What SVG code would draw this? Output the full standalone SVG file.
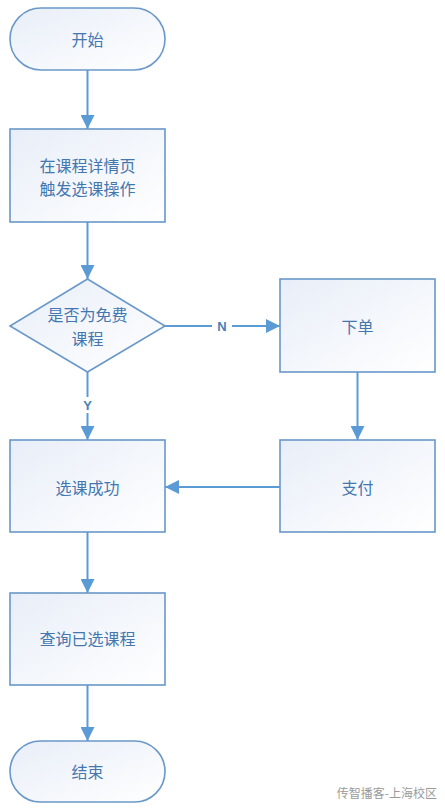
<svg xmlns="http://www.w3.org/2000/svg" width="445" height="809" viewBox="0 0 445 809">
<defs>
<linearGradient id="g" x1="0" y1="0" x2="1" y2="1">
<stop offset="0" stop-color="#e8eef8"/>
<stop offset="1" stop-color="#ffffff"/>
</linearGradient>
<marker id="ah" markerWidth="14" markerHeight="14" refX="14" refY="7" orient="auto" markerUnits="userSpaceOnUse">
<path d="M0,0 L14,7 L0,14 Z" fill="#5b9bd5"/>
</marker>
<style>
.n{fill:url(#g);stroke:#6a98c9;stroke-width:1.6}
.t{font-family:"Noto Sans CJK SC","Noto Sans",sans-serif;font-size:16px;fill:#4477b0;text-anchor:middle;dominant-baseline:central}
.c{stroke:#5b9bd5;stroke-width:2;fill:none;marker-end:url(#ah)}
.l{font-family:"Liberation Sans","Noto Sans",sans-serif;font-size:13px;font-weight:bold;fill:#4a7fb8;text-anchor:middle;dominant-baseline:central}
.w{font-family:"Noto Sans CJK SC",sans-serif;font-size:12px;fill:#9a9a9a;text-anchor:end}
</style>
</defs>
<g id="connectors">
<path class="c" d="M87.5,70 V129"/>
<path class="c" d="M87.5,222 V279"/>
<path class="c" d="M165,326 H280"/>
<rect x="212" y="318" width="20" height="16" fill="#fff"/>
<text class="l" x="222" y="326">N</text>
<path class="c" d="M87.5,372 V440"/>
<rect x="80" y="397" width="15" height="16" fill="#fff"/>
<text class="l" x="87.5" y="405">Y</text>
<path class="c" d="M357.5,372 V440"/>
<path class="c" d="M280,487 H165"/>
<path class="c" d="M87.5,532 V593"/>
<path class="c" d="M87.5,685 V741"/>
</g>
<g id="start">
<rect class="n" x="10" y="8" width="155" height="62" rx="31" ry="31"/>
<text class="t" x="87.5" y="39">开始</text>
</g>
<g id="trigger">
<rect class="n" x="10" y="129" width="155" height="93"/>
<text class="t" x="87.5" y="165">在课程详情页</text>
<text class="t" x="87.5" y="188">触发选课操作</text>
</g>
<g id="decision">
<polygon class="n" points="87.5,279 165,326 87.5,372 10,326"/>
<text class="t" x="87.5" y="314">是否为免费</text>
<text class="t" x="87.5" y="338">课程</text>
</g>
<g id="order">
<rect class="n" x="280" y="279" width="155" height="93"/>
<text class="t" x="357.5" y="326">下单</text>
</g>
<g id="pay">
<rect class="n" x="280" y="440" width="155" height="92"/>
<text class="t" x="357.5" y="487">支付</text>
</g>
<g id="success">
<rect class="n" x="10" y="440" width="155" height="92"/>
<text class="t" x="87.5" y="487">选课成功</text>
</g>
<g id="query">
<rect class="n" x="10" y="593" width="155" height="92"/>
<text class="t" x="87.5" y="638">查询已选课程</text>
</g>
<g id="end">
<rect class="n" x="10" y="741" width="155" height="61" rx="30.5" ry="30.5"/>
<text class="t" x="87.5" y="771">结束</text>
</g>
<text class="w" x="437" y="798">传智播客-上海校区</text>
</svg>
